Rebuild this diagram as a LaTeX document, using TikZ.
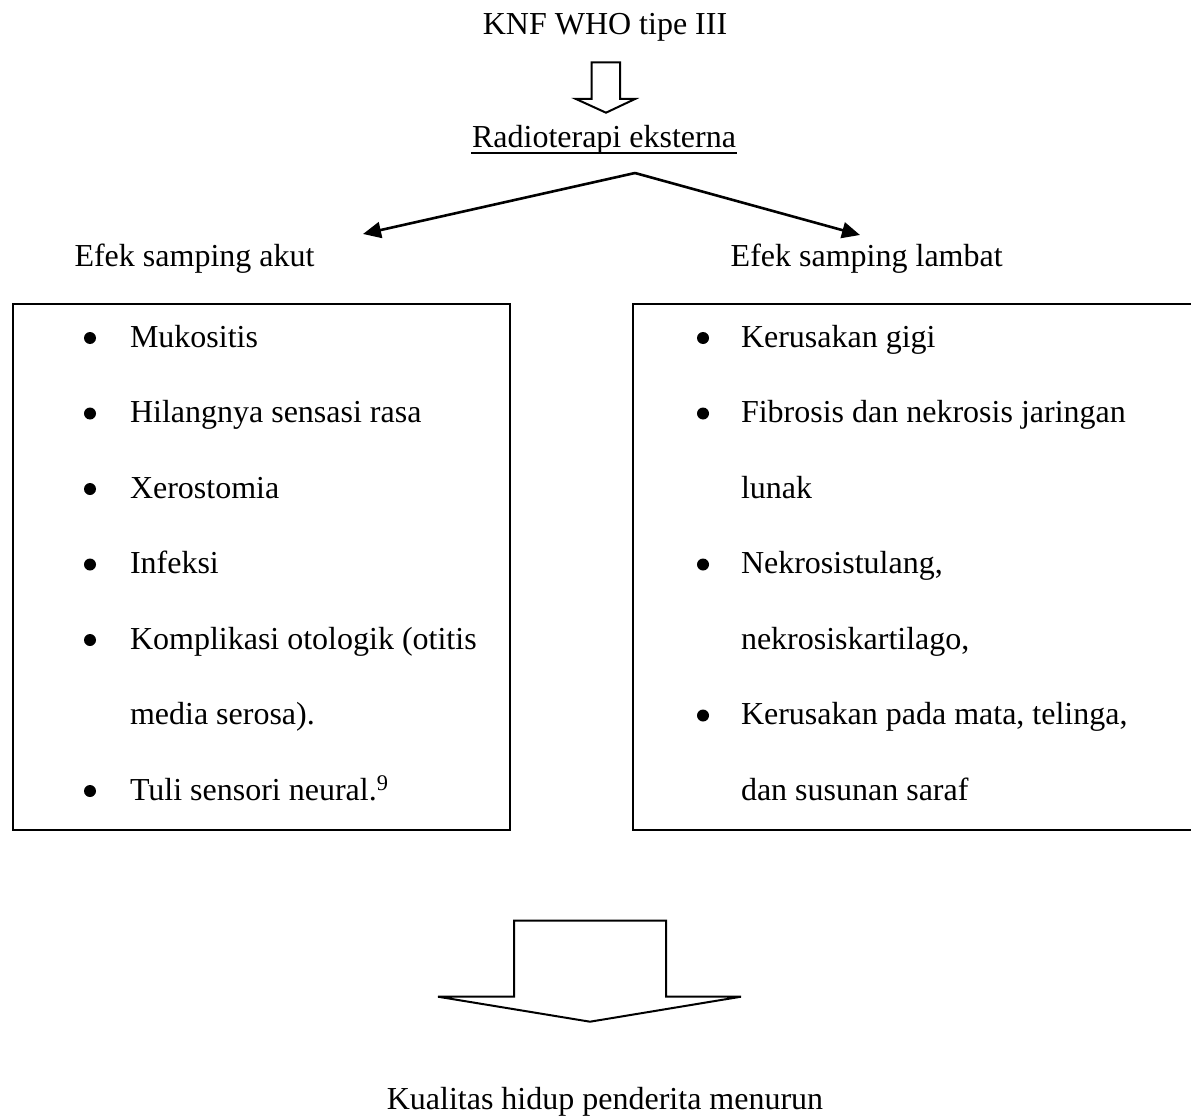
\documentclass[tikz,border=0pt]{standalone}
\usepackage{fontspec}
\setmainfont{Liberation Serif}
\usetikzlibrary{arrows.meta,calc}
\begin{document}
\begin{tikzpicture}[x=1pt,y=-1pt,
  txt/.style={inner sep=0pt,outer sep=0pt,font=\fontsize{32}{38}\selectfont},
  item/.style={txt,anchor=base west},
  ctr/.style={txt,anchor=base},
  listbox/.style={draw,line width=2pt,inner sep=0pt,outer sep=0pt,anchor=north west},
  bul/.style={fill=black,circle,inner sep=0pt,outer sep=0pt,minimum size=12pt},
  fork/.style={line width=2.6pt,-{Triangle[length=18pt,width=16pt]}},
  hollow/.style={line width=2pt,line join=miter}
]
\useasboundingbox (0,0) rectangle (1191,1118);

% title and small hollow arrow
\node[ctr] (knf) at (605,35) {KNF WHO tipe III};
\draw[hollow] (591.7,62.3) -- (620,62.3) -- (620,99) -- (635,99) -- (606,112.7) -- (576,99) -- (591.7,99) -- cycle;

\node[ctr] (rad) at (604,148) {Radioterapi eksterna};
\draw[line width=1.8pt] ($(rad.base west)+(-1,5)$) -- ($(rad.base east)+(1,5)$);

% forking arrows
\coordinate (apex) at (635,173);
\coordinate (tipL) at (363,234);
\coordinate (tipR) at (860,235);
\draw[fork] (apex) -- (tipL);
\draw[fork] (apex) -- (tipR);

\node[ctr] (akut) at (194.5,266.7) {Efek samping akut};
\node[ctr] (lambat) at (866.7,266.7) {Efek samping lambat};

% boxes
\node[listbox,minimum width=497pt,minimum height=526pt] (boxL) at (13,304) {};
\node[listbox,minimum width=570pt,minimum height=526pt] (boxR) at (633,304) {};

% left list
\node[bul] (bl1) at (90,338) {};
\node[item] (l1) at (130,347) {Mukositis};
\node[bul] (bl2) at (90,413.5) {};
\node[item] (l2) at (130,422.5) {Hilangnya sensasi rasa};
\node[bul] (bl3) at (90,489) {};
\node[item] (l3) at (130,498) {Xerostomia};
\node[bul] (bl4) at (90,564.5) {};
\node[item] (l4) at (130,573.5) {Infeksi};
\node[bul] (bl5) at (90,640) {};
\node[item] (l5) at (130,649) {Komplikasi otologik (otitis};
\node[item] (l6) at (130,724.5) {media serosa).};
\node[bul] (bl7) at (90,791) {};
\node[item] (l7) at (130,800) {Tuli sensori neural.\textsuperscript{9}};

% right list
\node[bul] (br1) at (703,338) {};
\node[item] (r1) at (741,347) {Kerusakan gigi};
\node[bul] (br2) at (703,413.5) {};
\node[item] (r2) at (741,422.5) {Fibrosis dan nekrosis jaringan};
\node[item] (r3) at (741,498) {lunak};
\node[bul] (br4) at (703,564.5) {};
\node[item] (r4) at (741,573.5) {Nekrosistulang,};
\node[item] (r5) at (741,649) {nekrosiskartilago,};
\node[bul] (br6) at (703,715.5) {};
\node[item] (r6) at (741,724.5) {Kerusakan pada mata, telinga,};
\node[item] (r7) at (741,800) {dan susunan saraf};

% big hollow arrow
\draw[hollow] (514,920.7) -- (666,920.7) -- (666,996.7) -- (741,996.7) -- (590,1021.7) -- (438,996.7) -- (514,996.7) -- cycle;

\node[ctr] (kual) at (605,1109) {Kualitas hidup penderita menurun};
\end{tikzpicture}
\end{document}
